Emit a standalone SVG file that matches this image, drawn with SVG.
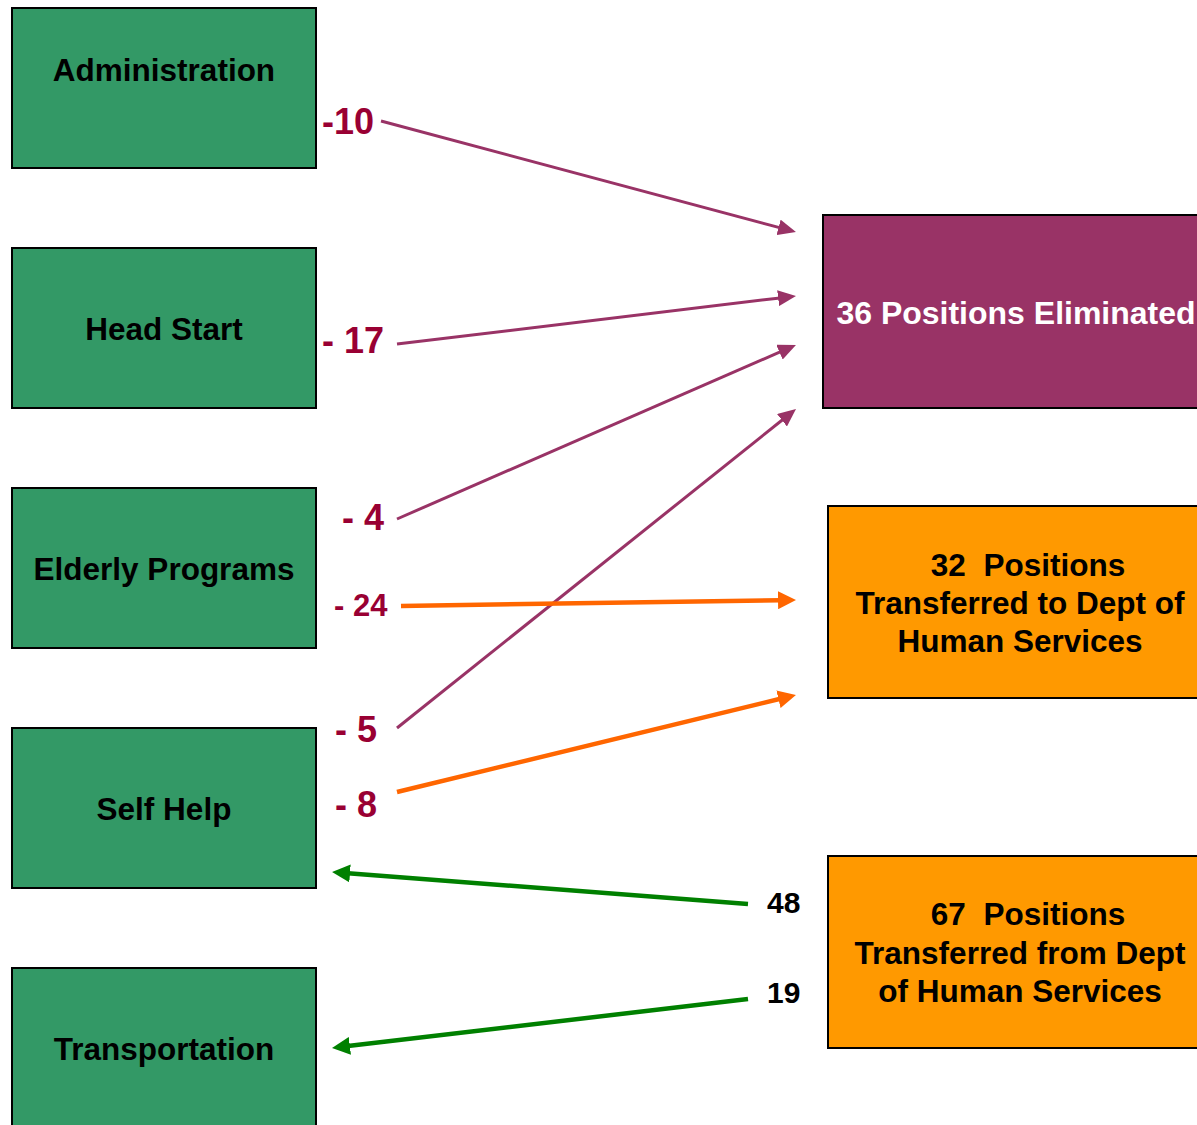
<svg xmlns="http://www.w3.org/2000/svg" width="1197" height="1125" viewBox="0 0 1197 1125">
<defs>
<style>
.g{fill:#339966;stroke:#000;stroke-width:2}
.p{fill:#993366;stroke:#000;stroke-width:2}
.o{fill:#FF9900;stroke:#000;stroke-width:2}
text{font-family:"Liberation Sans",Arial,sans-serif;font-weight:bold;white-space:pre}
.nt{font-size:31.5px;fill:#000;text-anchor:middle}
.wt{font-size:32px;fill:#fff;text-anchor:middle}
.lb{font-size:36px;fill:#990033}
.lb2{font-size:31px;fill:#990033}
.bk{font-size:30px;fill:#000}
.ap{stroke:#993366;stroke-width:3;fill:none}
.ao{stroke:#FF6600;stroke-width:4.5;fill:none}
.ag{stroke:#008000;stroke-width:4.5;fill:none}
</style>
<marker id="mp" markerUnits="userSpaceOnUse" markerWidth="20" markerHeight="16" refX="2" refY="8" orient="auto"><path d="M0,0 L18,8 L0,16 z" fill="#993366"/></marker>
<marker id="mo" markerUnits="userSpaceOnUse" markerWidth="20" markerHeight="18" refX="2" refY="9" orient="auto"><path d="M0,0 L18,9 L0,18 z" fill="#FF6600"/></marker>
<marker id="mg" markerUnits="userSpaceOnUse" markerWidth="20" markerHeight="18" refX="2" refY="9" orient="auto"><path d="M0,0 L18,9 L0,18 z" fill="#008000"/></marker>
</defs>
<rect width="1197" height="1125" fill="#fff"/>
<g id="administration"><rect class="g" x="12" y="8" width="304" height="160"/><text class="nt" x="164" y="81">Administration</text></g>
<g id="head-start"><rect class="g" x="12" y="248" width="304" height="160"/><text class="nt" x="164" y="340">Head Start</text></g>
<g id="elderly-programs"><rect class="g" x="12" y="488" width="304" height="160"/><text class="nt" x="164" y="580">Elderly Programs</text></g>
<g id="self-help"><rect class="g" x="12" y="728" width="304" height="160"/><text class="nt" x="164" y="820">Self Help</text></g>
<g id="transportation"><rect class="g" x="12" y="968" width="304" height="160"/><text class="nt" x="164" y="1060">Transportation</text></g>
<g id="eliminated"><rect class="p" x="823" y="215" width="390" height="193"/><text class="wt" x="1016" y="324">36 Positions Eliminated</text></g>
<g id="transferred-to"><rect class="o" x="828" y="506" width="390" height="192"/>
<text class="nt" x="1028" y="576" xml:space="preserve">32  Positions</text>
<text class="nt" x="1020" y="614">Transferred to Dept of</text>
<text class="nt" x="1020" y="652">Human Services</text></g>
<g id="transferred-from"><rect class="o" x="828" y="856" width="390" height="192"/>
<text class="nt" x="1028" y="925" xml:space="preserve">67  Positions</text>
<text class="nt" x="1020" y="964">Transferred from Dept</text>
<text class="nt" x="1020" y="1002">of Human Services</text></g>
<g id="connectors">
<line class="ap" x1="381" y1="121" x2="780.5" y2="227.9" marker-end="url(#mp)"/>
<line class="ap" x1="397" y1="344" x2="780.1" y2="297.9" marker-end="url(#mp)"/>
<line class="ap" x1="397" y1="519" x2="781.3" y2="351.4" marker-end="url(#mp)"/>
<line class="ap" x1="397" y1="728" x2="783.5" y2="419" marker-end="url(#mp)"/>
<line class="ao" x1="401" y1="606" x2="780" y2="600.2" marker-end="url(#mo)"/>
<line class="ao" x1="397" y1="792" x2="780.4" y2="698.8" marker-end="url(#mo)"/>
<line class="ag" x1="748" y1="904" x2="348" y2="873.2" marker-end="url(#mg)"/>
<line class="ag" x1="748" y1="999" x2="347.9" y2="1046.1" marker-end="url(#mg)"/>
<text class="lb" x="322" y="134">-10</text>
<text class="lb" x="322" y="353">- 17</text>
<text class="lb" x="342" y="530">- 4</text>
<text class="lb2" x="334" y="616">- 24</text>
<text class="lb" x="335" y="742">- 5</text>
<text class="lb" x="335" y="817">- 8</text>
<text class="bk" x="767" y="913">48</text>
<text class="bk" x="767" y="1003">19</text>
</g>
</svg>
